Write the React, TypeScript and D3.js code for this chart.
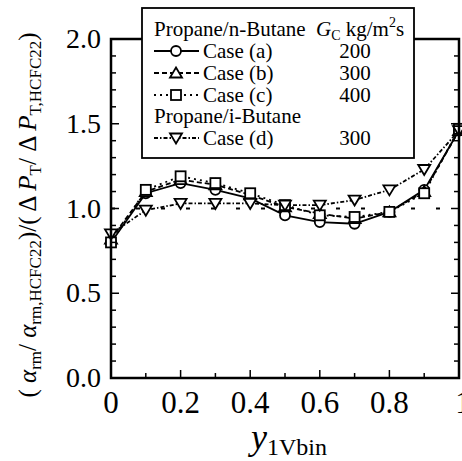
import React from "react";
import * as d3 from "d3";

const xs = [0, 0.1, 0.2, 0.3, 0.4, 0.5, 0.6, 0.7, 0.8, 0.9, 1.0];
const caseA = [0.8, 1.09, 1.15, 1.11, 1.06, 0.96, 0.92, 0.91, 0.98, 1.11, 1.46];
const caseB = [0.82, 1.1, 1.17, 1.14, 1.08, 1.01, 0.97, 0.94, 0.98, 1.1, 1.46];
const caseC = [0.8, 1.11, 1.19, 1.15, 1.09, 1.02, 0.96, 0.95, 0.98, 1.09, 1.47];
const caseD = [0.85, 0.99, 1.03, 1.03, 1.03, 1.02, 1.02, 1.05, 1.11, 1.23, 1.46];
const xTicks = [0, 0.2, 0.4, 0.6, 0.8, 1];
const xTickLabels = ["0", "0.2", "0.4", "0.6", "0.8", "1"];
const yTicks = [0, 0.5, 1.0, 1.5, 2.0];
const yTickLabels = ["0.0", "0.5", "1.0", "1.5", "2.0"];
const legendNames = ["Case (a)", "Case (b)", "Case (c)", "Case (d)"];
const legendG = ["200", "300", "400", "300"];

const W = 462, H = 461;
const L = 111, R = 459, T = 39, B = 378;
const FONT = "'Liberation Serif', 'Times New Roman', serif";

type Marker = "circle" | "up" | "square" | "down";

function MarkerShape({ type, cx, cy }: { type: Marker; cx: number; cy: number }) {
  const s = 5;
  const common = { fill: "white", stroke: "black", strokeWidth: 1.8 };
  if (type === "circle") return <circle cx={cx} cy={cy} r={5} {...common} />;
  if (type === "square") return <rect x={cx - s} y={cy - s} width={2 * s} height={2 * s} {...common} />;
  if (type === "up")
    return <path d={`M${cx},${cy - 5.5}L${cx + 6},${cy + 4.5}L${cx - 6},${cy + 4.5}Z`} {...common} />;
  return <path d={`M${cx},${cy + 5.5}L${cx + 6},${cy - 4.5}L${cx - 6},${cy - 4.5}Z`} {...common} />;
}

export default function App() {
  const x = d3.scaleLinear().domain([0, 1]).range([L, R]);
  const y = d3.scaleLinear().domain([0, 2]).range([B, T]);
  const line = d3
    .line<[number, number]>()
    .x((d) => x(d[0]))
    .y((d) => y(d[1]));

  const series: { vals: number[]; marker: Marker; dash: string }[] = [
    { vals: caseA, marker: "circle", dash: "" },
    { vals: caseB, marker: "up", dash: "5,3" },
    { vals: caseC, marker: "square", dash: "2,4" },
    { vals: caseD, marker: "down", dash: "4,2,1.5,2" },
  ];

  const minorY = d3.range(0, 2.0001, 0.1);
  const minorX = d3.range(0, 1.0001, 0.1);

  const rowY = [36, 58, 80, 102, 123, 145];
  const legendRows = [1, 2, 3, 5];

  return (
    <svg width={W} height={H} style={{ position: "absolute", left: 0, top: 0, background: "white" }}>
      <rect x={0} y={0} width={W} height={H} fill="white" />
      {/* reference line at 1.0 */}
      <line x1={x(0)} x2={x(1)} y1={y(1)} y2={y(1)} stroke="black" strokeWidth={1.8} strokeDasharray="4,21" />
      {series.map((s, i) => (
        <path
          key={"l" + i}
          d={line(xs.map((v, j) => [v, s.vals[j]]) as [number, number][]) || ""}
          fill="none"
          stroke="black"
          strokeWidth={1.8}
          strokeDasharray={s.dash}
        />
      ))}
      {series.map((s, i) =>
        xs.map((v, j) => <MarkerShape key={`m${i}-${j}`} type={s.marker} cx={x(v)} cy={y(s.vals[j])} />)
      )}
      {/* frame */}
      <rect x={L} y={T} width={R - L} height={B - T} fill="none" stroke="black" strokeWidth={2.5} />
      {/* ticks */}
      {minorY.map((v, i) => {
        const len = i % 5 === 0 ? 8 : 5;
        return (
          <g key={"yt" + i}>
            <line x1={L} x2={L + len} y1={y(v)} y2={y(v)} stroke="black" strokeWidth={1.5} />
            <line x1={R} x2={R - len} y1={y(v)} y2={y(v)} stroke="black" strokeWidth={1.5} />
          </g>
        );
      })}
      {minorX.map((v, i) => {
        const len = i % 2 === 0 ? 8 : 5;
        return <line key={"xt" + i} x1={x(v)} x2={x(v)} y1={B} y2={B - len} stroke="black" strokeWidth={1.5} />;
      })}
      {/* y tick labels */}
      {yTicks.map((v, i) => (
        <text key={"yl" + i} x={101} y={y(v) + 9} textAnchor="end" fontFamily={FONT} fontSize={28} fill="black">
          {yTickLabels[i]}
        </text>
      ))}
      {/* x tick labels */}
      {xTicks.map((v, i) => (
        <text key={"xl" + i} x={x(v) + (i === 5 ? 4 : 0)} y={413} textAnchor="middle" fontFamily={FONT} fontSize={31} fill="black">
          {xTickLabels[i]}
        </text>
      ))}
      {/* x title */}
      <text x={251} y={449} fontFamily={FONT} fill="black">
        <tspan fontStyle="italic" fontSize={36}>y</tspan>
        <tspan fontSize={24} dy={6}>1Vbin</tspan>
      </text>
      {/* y title */}
      <text
        transform={`translate(36,${215}) rotate(-90)`}
        textAnchor="middle"
        fontFamily={FONT}
        fontSize={25}
        fill="black"
      >
        <tspan>( </tspan>
        <tspan fontStyle="italic">α</tspan>
        <tspan fontSize={17} dy={5}>rm</tspan>
        <tspan dy={-5}>/ </tspan>
        <tspan fontStyle="italic">α</tspan>
        <tspan fontSize={17} dy={5}>rm,HCFC22</tspan>
        <tspan dy={-5}>)/( Δ </tspan>
        <tspan fontStyle="italic">P</tspan>
        <tspan fontSize={17} dy={5}>T</tspan>
        <tspan dy={-5}>/ Δ </tspan>
        <tspan fontStyle="italic">P</tspan>
        <tspan fontSize={17} dy={5}>T,HCFC22</tspan>
        <tspan dy={-5}>)</tspan>
      </text>
      {/* legend */}
      <rect x={142} y={8} width={272} height={150} fill="white" stroke="black" strokeWidth={1.8} />
      <text x={154} y={rowY[0]} fontFamily={FONT} fontSize={21} fill="black">Propane/n-Butane</text>
      <text x={316} y={rowY[0]} fontFamily={FONT} fontSize={21} fill="black">
        <tspan fontStyle="italic">G</tspan>
        <tspan fontSize={14} dy={4}>C</tspan>
        <tspan dy={-4}> kg/m</tspan>
        <tspan fontSize={14} dy={-9}>2</tspan>
        <tspan dy={9}>s</tspan>
      </text>
      <text x={154} y={rowY[4]} fontFamily={FONT} fontSize={21} fill="black">Propane/i-Butane</text>
      {series.map((s, i) => {
        const ry = rowY[legendRows[i]];
        const cy = ry - 7;
        return (
          <g key={"lg" + i}>
            <line x1={154} x2={199} y1={cy} y2={cy} stroke="black" strokeWidth={1.8} strokeDasharray={s.dash} />
            <MarkerShape type={s.marker} cx={176} cy={cy} />
            <text x={203} y={ry} fontFamily={FONT} fontSize={21} fill="black">{legendNames[i]}</text>
            <text x={355} y={ry} textAnchor="middle" fontFamily={FONT} fontSize={21} fill="black">{legendG[i]}</text>
          </g>
        );
      })}
    </svg>
  );
}
